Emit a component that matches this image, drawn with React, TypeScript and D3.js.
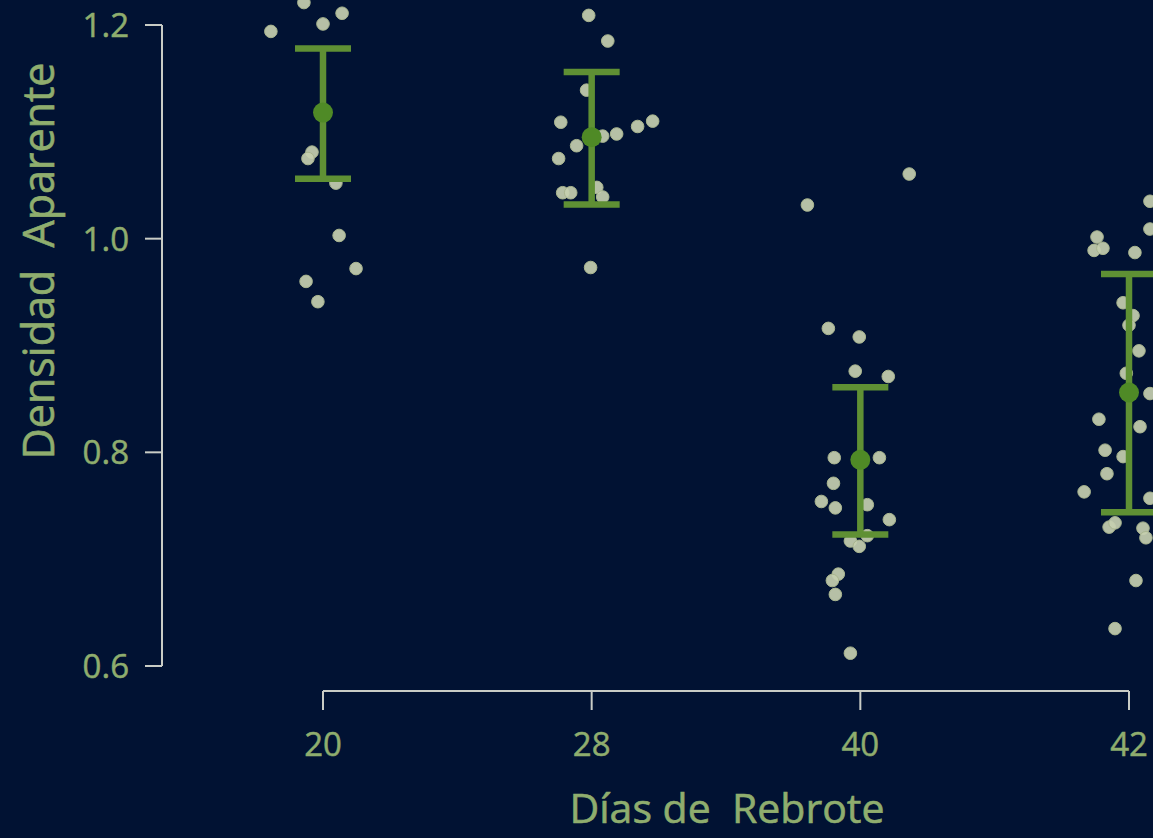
import React from "react";
import * as d3 from "d3";

// Regrowth days (categories) and per-group summaries
const days: string[] = ["20", "28", "40", "42"];
const means: number[] = [1.118, 1.095, 0.793, 0.856];
const lower: number[] = [1.056, 1.032, 0.723, 0.744];
const upper: number[] = [1.178, 1.156, 0.861, 0.967];
const yTicks: number[] = [0.6, 0.8, 1.0, 1.2];

// Individual observations: [value, horizontal jitter in category units]
const obs20: [number, number][] = [
  [1.221, -0.071], [1.211, 0.071], [1.201, 0], [1.194, -0.194],
  [1.081, -0.041], [1.075, -0.056], [1.052, 0.048], [1.003, 0.06],
  [0.972, 0.123], [0.96, -0.063], [0.941, -0.019],
];
const obs28: [number, number][] = [
  [1.209, -0.011], [1.185, 0.06], [1.139, -0.019], [1.109, -0.115],
  [1.105, 0.171], [1.11, 0.227], [1.096, 0.041], [1.098, 0.093],
  [1.087, -0.056], [1.075, -0.123], [1.043, -0.108], [1.043, -0.078],
  [1.048, 0.019], [1.039, 0.041], [0.973, -0.004],
];
const obs40: [number, number][] = [
  [1.0605, 0.182], [1.0315, -0.197], [0.916, -0.119], [0.908, -0.004],
  [0.876, -0.019], [0.871, 0.104], [0.795, -0.097], [0.795, 0.071],
  [0.771, -0.1], [0.754, -0.145], [0.748, -0.093], [0.751, 0.026],
  [0.737, 0.108], [0.717, -0.037], [0.712, -0.004], [0.722, 0.026],
  [0.686, -0.082], [0.68, -0.104], [0.667, -0.093], [0.612, -0.037],
];
const obs42: [number, number][] = [
  [1.035, 0.078], [1.009, 0.078], [1.0015, -0.119], [0.989, -0.13],
  [0.991, -0.097], [0.987, 0.022], [0.94, -0.022], [0.928, 0.015],
  [0.919, 0], [0.895, 0.037], [0.874, -0.01], [0.855, 0.078],
  [0.831, -0.112], [0.824, 0.041], [0.802, -0.089], [0.796, -0.022],
  [0.78, -0.082], [0.763, -0.167], [0.757, 0.078], [0.73, -0.074],
  [0.734, -0.052], [0.729, 0.052], [0.72, 0.063], [0.68, 0.026],
  [0.635, -0.052],
];
const observations = [obs20, obs28, obs40, obs42];

const W = 1153;
const H = 838;
const BG = "#011233";
const TEXT = "#8fad6e";
const AXIS = "#c9ccc6";
const BAR = "#5f9034";
const MEAN = "#4f8a26";
const POINT = "#c6cfb0";
const FONT = "'Open Sans', 'Noto Sans', sans-serif";

export default function App() {
  const x = d3.scaleLinear().domain([0, 3]).range([323, 1129]);
  const y = d3.scaleLinear().domain([0.6, 1.2]).range([666, 25]);
  const axisY = 691;
  const axisX = 162;
  const capHalf = 28;

  return (
    <svg
      width={W}
      height={H}
      style={{ position: "fixed", left: 0, top: 0, background: BG, overflow: "hidden" }}
      fontFamily={FONT}
    >
      <rect width={W} height={H} fill={BG} />

      {/* y axis */}
      <line x1={axisX} x2={axisX} y1={y(1.2)} y2={y(0.6)} stroke={AXIS} strokeWidth={2} />
      {yTicks.map((t) => (
        <g key={t}>
          <line x1={axisX - 17} x2={axisX} y1={y(t)} y2={y(t)} stroke={AXIS} strokeWidth={2} />
          <text x={129} y={y(t) + 12} textAnchor="end" fill={TEXT} fontSize={33} stroke={TEXT} strokeWidth={0.5}>
            {d3.format(".1f")(t)}
          </text>
        </g>
      ))}

      {/* x axis */}
      <line x1={x(0)} x2={x(3)} y1={axisY} y2={axisY} stroke={AXIS} strokeWidth={2} />
      {days.map((d, i) => (
        <g key={d}>
          <line x1={x(i)} x2={x(i)} y1={axisY} y2={axisY + 19} stroke={AXIS} strokeWidth={2} />
          <text x={x(i)} y={756} textAnchor="middle" fill={TEXT} fontSize={33} stroke={TEXT} strokeWidth={0.5}>
            {d}
          </text>
        </g>
      ))}

      {/* axis titles */}
      <text
        x={727}
        y={823}
        textAnchor="middle"
        fill={TEXT}
        fontSize={41}
        stroke={TEXT}
        strokeWidth={0.6}
        style={{ whiteSpace: "pre" }}
      >
        {"Días de  Rebrote"}
      </text>
      <text
        transform={`translate(54, 261) rotate(-90)`}
        textAnchor="middle"
        fill={TEXT}
        fontSize={43}
        stroke={TEXT}
        strokeWidth={0.6}
        style={{ whiteSpace: "pre" }}
      >
        {"Densidad  Aparente"}
      </text>

      {/* observations */}
      {observations.map((grp, i) => (
        <g key={days[i]}>
          {grp.map(([v, j], k) => (
            <circle
              key={k}
              cx={x(i + j)}
              cy={y(v)}
              r={6.3}
              fill={POINT}
              fillOpacity={0.92}
              stroke="#a9b58f"
              strokeWidth={1}
            />
          ))}
        </g>
      ))}

      {/* mean ± error bars */}
      {days.map((d, i) => (
        <g key={`bar-${d}`} stroke={BAR} strokeWidth={6.5}>
          <line x1={x(i)} x2={x(i)} y1={y(upper[i])} y2={y(lower[i])} />
          <line x1={x(i) - capHalf} x2={x(i) + capHalf} y1={y(upper[i])} y2={y(upper[i])} />
          <line x1={x(i) - capHalf} x2={x(i) + capHalf} y1={y(lower[i])} y2={y(lower[i])} />
          <circle cx={x(i)} cy={y(means[i])} r={10} fill={MEAN} stroke="none" />
        </g>
      ))}
    </svg>
  );
}
